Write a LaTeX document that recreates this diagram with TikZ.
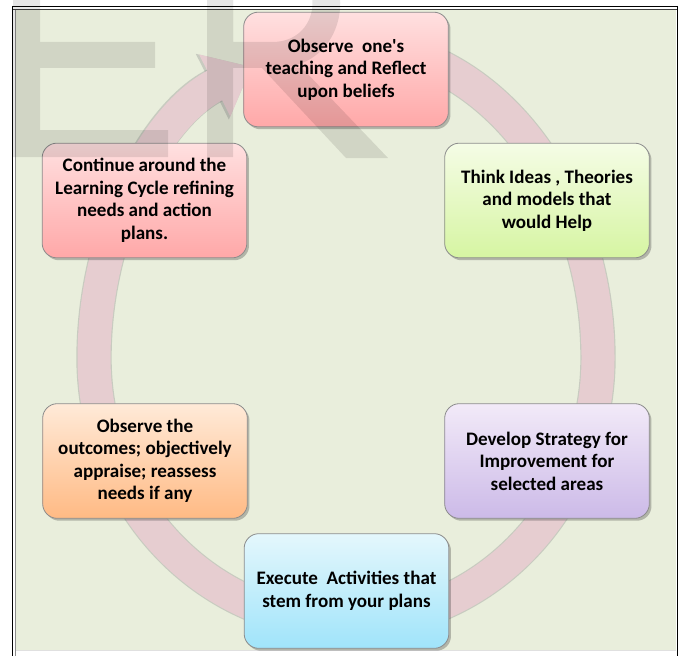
\documentclass[tikz,border=0pt]{standalone}
\usepackage{fontspec}
\setmainfont{Carlito}
\usetikzlibrary{arrows.meta,shadows}
\definecolor{bgc}{RGB}{233,238,220}
\definecolor{ringc}{RGB}{230,205,208}
\definecolor{pinkT}{RGB}{255,224,224}
\definecolor{pinkB}{RGB}{255,168,168}
\definecolor{greenT}{RGB}{245,252,230}
\definecolor{greenB}{RGB}{214,245,162}
\definecolor{orangeT}{RGB}{255,234,216}
\definecolor{orangeB}{RGB}{255,186,132}
\definecolor{purpleT}{RGB}{242,234,248}
\definecolor{purpleB}{RGB}{204,186,232}
\definecolor{blueT}{RGB}{228,247,252}
\definecolor{blueB}{RGB}{160,228,250}
\begin{document}
\begin{tikzpicture}[x=0.75pt,y=-0.75pt,
  box/.style={draw=black!45, line width=0.6pt, rounded corners=11pt,
    minimum width=153.5pt, minimum height=86pt, align=center, inner sep=2pt,
    font=\fontsize{14.3}{16.9}\selectfont\bfseries,
    drop shadow={shadow xshift=1.6pt, shadow yshift=-1.8pt, opacity=0.3, fill=black!80}},
  ringline/.style={line width=24.75pt, -{Triangle[length=31pt,width=50pt]}}]
\useasboundingbox (0,0) rectangle (680,656);
% background and frame
\fill[white] (0,0) rectangle (680,656);
\fill[bgc] (15,10) rectangle (676,650);
\draw[black!12, line width=0.6pt] (15,650.5) -- (676,650.5);
\draw[black, line width=1pt] (12,6.5) -- (678,6.5);
\draw[black!75, line width=0.6pt] (12,9.6) -- (678,9.6);
\draw[black, line width=1pt] (12.6,6) -- (12.6,656);
\draw[black!45, line width=0.6pt] (15,10) -- (15,656);
\draw[black, line width=1pt] (677.3,6) -- (677.3,656);
% circular arrow
\draw[black!45, opacity=0.35, line width=26.5pt, -{Triangle[length=33pt,width=53pt]}]
  (389.76,48.8) arc[start angle=-80,end angle=0,x radius=252,y radius=314]
  arc[start angle=0,end angle=180,x radius=252,y radius=265]
  arc[start angle=180,end angle=248,x radius=252,y radius=314];
\draw[ringc, ringline]
  (389.76,48.8) arc[start angle=-80,end angle=0,x radius=252,y radius=314]
  arc[start angle=0,end angle=180,x radius=252,y radius=265]
  arc[start angle=180,end angle=248,x radius=252,y radius=314];
% boxes
\node[box, top color=pinkT, bottom color=pinkB] (obs) at (346,69.5)
  {Observe\ \ one\textquotesingle s\\teaching and Reflect\\upon beliefs};
\node[box, top color=greenT, bottom color=greenB] (think) at (547,200.5)
  {Think Ideas , Theories\\and models that\\would Help};
\node[box, top color=pinkT, bottom color=pinkB] (cont) at (144.5,200.5)
  {Continue around the\\Learning Cycle refining\\needs and action\\plans.};
\node[box, top color=orangeT, bottom color=orangeB] (outc) at (145,461)
  {Observe the\\outcomes; objectively\\appraise; reassess\\needs if any};
\node[box, top color=purpleT, bottom color=purpleB] (dev) at (547,461)
  {Develop Strategy for\\Improvement for\\selected areas};
\node[box, top color=blueT, bottom color=blueB] (exec) at (346.5,591)
  {Execute\ \ Activities that\\stem from your plans};
% watermark
\begin{scope}[transparency group, opacity=0.1]
  \clip (0,0) rectangle (680,656);
  \fill[black] (13,-20) rectangle (40,157);
  \fill[black] (40,42) rectangle (155,68);
  \fill[black] (40,130) rectangle (168,157);
  \fill[black] (207,-70) rectangle (233,157);
  \fill[black, even odd rule] (233,-62) -- (275,-62) .. controls (362,-62) and (362,68) .. (275,68) -- (233,68) -- cycle
    (233,-36) -- (272,-36) .. controls (326,-36) and (326,42) .. (272,42) -- (233,42) -- cycle;
  \fill[black] (262,68) -- (302,68) -- (388,158) -- (346,158) -- cycle;
\end{scope}
\end{tikzpicture}
\end{document}
